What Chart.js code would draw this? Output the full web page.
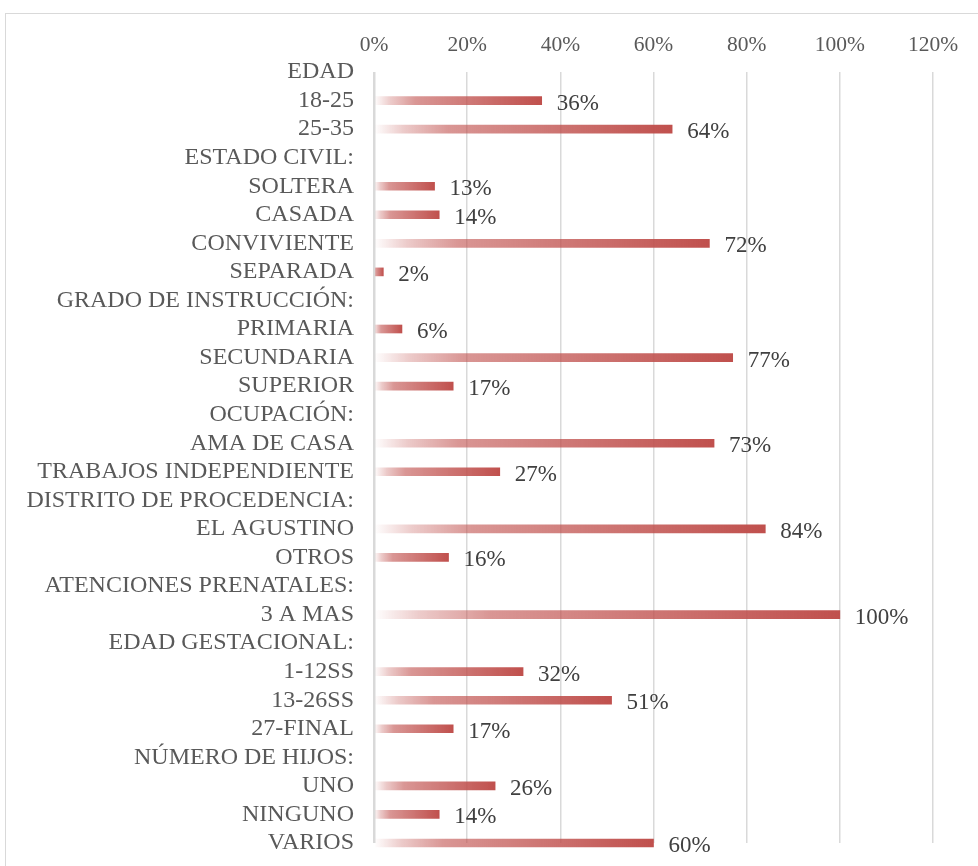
<!DOCTYPE html>
<html>
<head>
<meta charset="utf-8">
<script src="https://cdn.jsdelivr.net/npm/chart.js@4"></script>
<style>
  body { margin: 0; background: #fff; }
  #frame { position: absolute; left: 5px; top: 13px; width: 1000px; height: 900px; border: 1px solid #d9d9d9; }
  #chart { position: absolute; left: 0; top: 0; }
</style>
</head>
<body>
<div id="frame"></div>
<canvas id="chart" width="978" height="866"></canvas>
<script>
// rows of the table, headings have no value
const categories = [
  'EDAD', '18-25', '25-35',
  'ESTADO CIVIL:', 'SOLTERA', 'CASADA', 'CONVIVIENTE', 'SEPARADA',
  'GRADO DE INSTRUCCIÓN:', 'PRIMARIA', 'SECUNDARIA', 'SUPERIOR',
  'OCUPACIÓN:', 'AMA DE CASA', 'TRABAJOS INDEPENDIENTE',
  'DISTRITO DE PROCEDENCIA:', 'EL AGUSTINO', 'OTROS',
  'ATENCIONES PRENATALES:', '3 A MAS',
  'EDAD GESTACIONAL:', '1-12SS', '13-26SS', '27-FINAL',
  'NÚMERO DE HIJOS:', 'UNO', 'NINGUNO', 'VARIOS'
];
const percentages = [
  null, 36, 64,
  null, 13, 14, 72, 2,
  null, 6, 77, 17,
  null, 73, 27,
  null, 84, 16,
  null, 100,
  null, 32, 51, 17,
  null, 26, 14, 60
];
const xTicks = [0, 20, 40, 60, 80, 100, 120];

const FONT = '"Liberation Serif", "Times New Roman", serif';

// each bar fades from white at 0% to red at its own end
function barFill(ctx) {
  const chart = ctx.chart;
  if (!chart.chartArea || ctx.raw == null) return '#C0504D';
  const x0 = chart.scales.x.getPixelForValue(0);
  const x1 = chart.scales.x.getPixelForValue(ctx.raw);
  const g = chart.ctx.createLinearGradient(x0, 0, x1, 0);
  g.addColorStop(0, 'rgba(192,80,77,0)');
  g.addColorStop(0.1, 'rgba(192,80,77,0.3)');
  g.addColorStop(0.25, 'rgba(192,80,77,0.6)');
  g.addColorStop(1, 'rgba(192,80,77,1)');
  return g;
}

const valueLabels = {
  id: 'valueLabels',
  afterDatasetsDraw(chart) {
    const c = chart.ctx;
    const meta = chart.getDatasetMeta(0);
    c.save();
    c.font = '23px ' + FONT;
    c.fillStyle = '#404040';
    c.textBaseline = 'middle';
    c.textAlign = 'left';
    meta.data.forEach((bar, i) => {
      const v = percentages[i];
      if (v == null) return;
      c.fillText(v + '%', bar.x + 15, bar.y + 3);
    });
    c.restore();
  }
};

new Chart(document.getElementById('chart'), {
  type: 'bar',
  data: {
    labels: categories,
    datasets: [{
      data: percentages,
      backgroundColor: barFill,
      barThickness: 8,
      clip: false
    }]
  },
  options: {
    indexAxis: 'y',
    responsive: false,
    animation: false,
    layout: { padding: { left: 0, right: 45, top: 0, bottom: 23 } },
    plugins: { legend: { display: false }, tooltip: { enabled: false } },
    scales: {
      x: {
        position: 'top',
        min: 0,
        max: 120,
        afterBuildTicks: s => { s.ticks = xTicks.map(v => ({ value: v })); },
        afterFit: s => { s.height = 72; },
        grid: {
          drawTicks: false,
          color: '#d9d9d9',
          lineWidth: ctx => (ctx.tick && ctx.tick.value === 0 ? 2.5 : 1.5)
        },
        border: { display: false },
        ticks: {
          padding: 14,
          color: '#595959',
          font: { family: FONT, size: 21.5 },
          callback: v => v + '%'
        }
      },
      y: {
        offset: false,
        afterFit: s => { s.width = 374; s.paddingTop = 0; s.paddingBottom = 0; },
        grid: { display: false, drawTicks: false },
        border: { display: false },
        ticks: {
          padding: 20,
          autoSkip: false,
          color: '#595959',
          font: { family: FONT, size: 24 }
        }
      }
    }
  },
  plugins: [valueLabels]
});
</script>
</body>
</html>
